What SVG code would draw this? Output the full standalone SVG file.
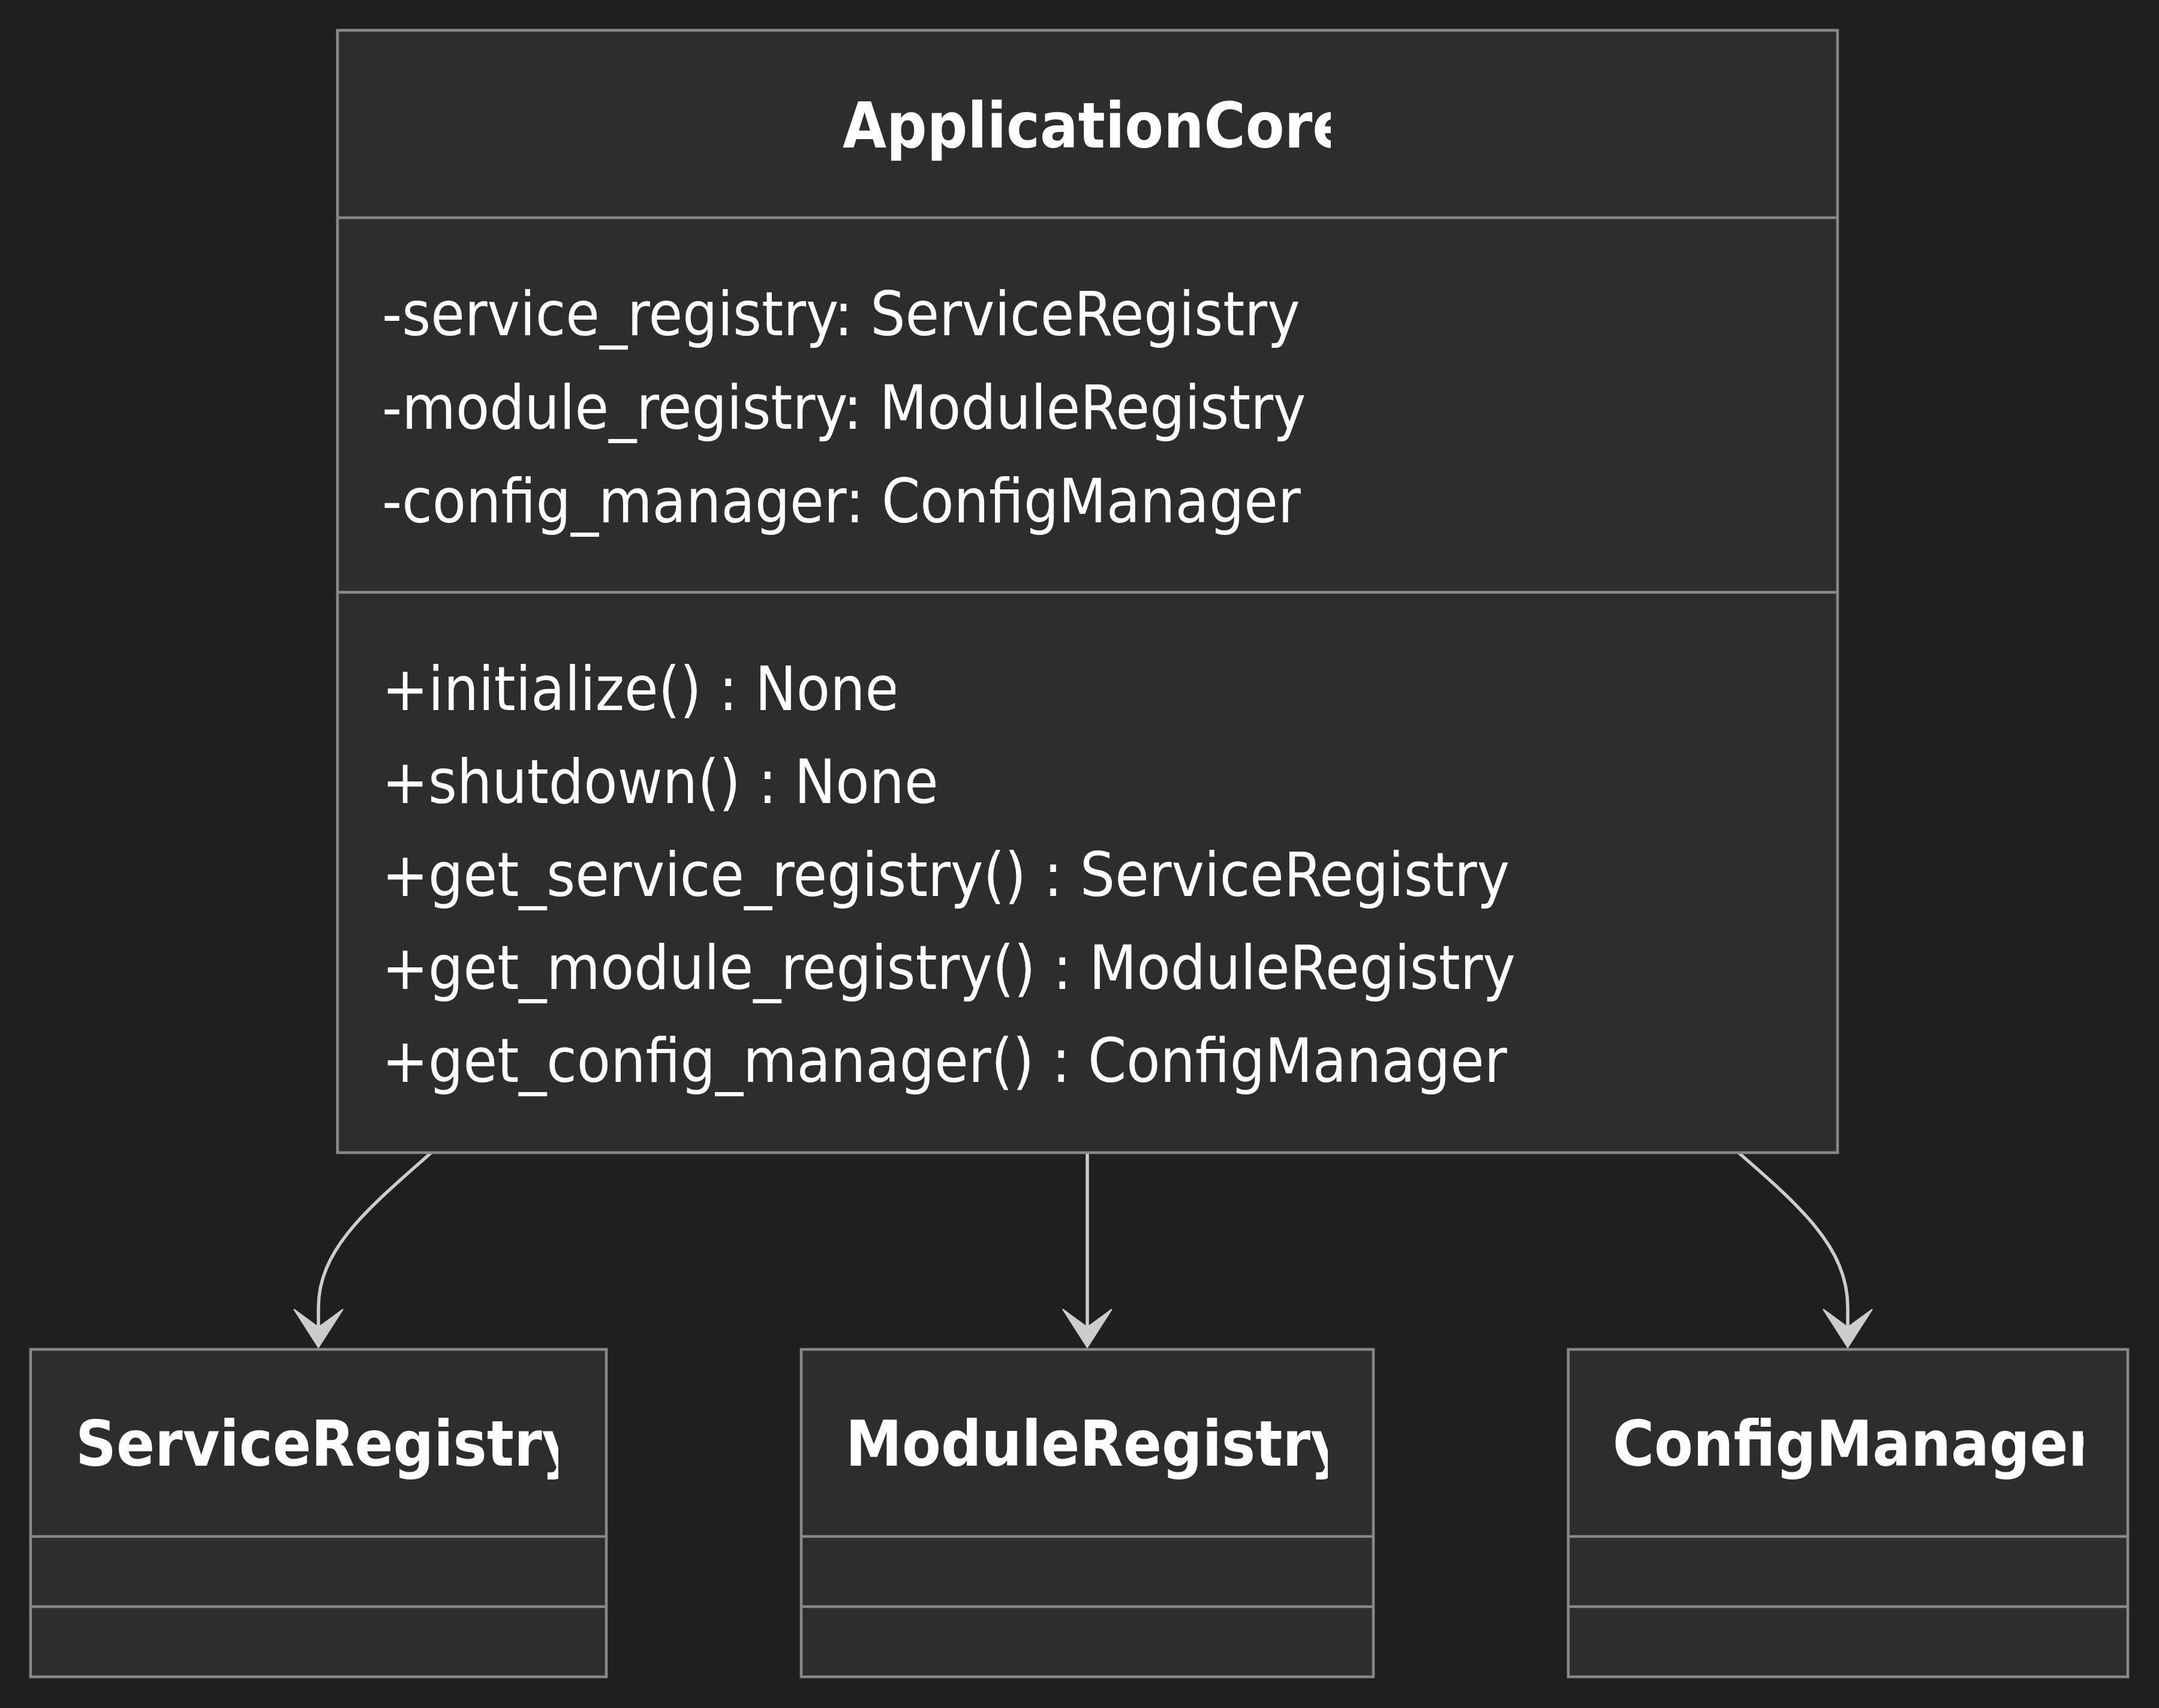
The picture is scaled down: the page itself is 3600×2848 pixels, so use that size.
<svg xmlns="http://www.w3.org/2000/svg" width="3600" height="2848" viewBox="0 0 3600 2848">
<style>
.box{fill:#2d2d2d;stroke:#888888;stroke-width:4.6}
.div{stroke:#888888;stroke-width:4.6}
.t{font-family:"DejaVu Sans Condensed","DejaVu Sans",sans-serif;font-stretch:condensed;font-size:102.3px;fill:#ffffff}
.h{font-family:"DejaVu Sans Condensed","DejaVu Sans",sans-serif;font-stretch:condensed;font-size:105px;font-weight:bold;fill:#ffffff}
.edge{fill:none;stroke:#cccccc;stroke-width:5.5}
</style>
<defs>
<marker id="dep" markerUnits="userSpaceOnUse" viewBox="-35 -45 75 90" refX="0" refY="0" markerWidth="75" markerHeight="90" orient="auto" overflow="visible">
<path d="M34,0 L-30,41 L0,0 L-30,-41 Z" fill="#cccccc" stroke="#cccccc" stroke-width="2" stroke-linejoin="miter"/>
</marker>
<clipPath id="cA"><rect x="500" y="40" width="1719" height="330"/></clipPath>
<clipPath id="cS"><rect x="40" y="2250" width="891" height="320"/></clipPath>
<clipPath id="cM"><rect x="1330" y="2250" width="884" height="320"/></clipPath>
<clipPath id="cC"><rect x="2610" y="2250" width="864" height="320"/></clipPath>
<clipPath id="a2"><rect x="600" y="600" width="1586" height="150"/></clipPath>
<clipPath id="a3"><rect x="600" y="760" width="1574" height="150"/></clipPath>
<clipPath id="m1"><rect x="600" y="1080" width="893" height="150"/></clipPath>
<clipPath id="m2"><rect x="600" y="1235" width="978" height="150"/></clipPath>
<clipPath id="m4"><rect x="600" y="1545" width="1940" height="150"/></clipPath>
<clipPath id="m5"><rect x="600" y="1700" width="1929" height="150"/></clipPath>
</defs>
<rect width="3600" height="2848" fill="#1f1f1f"/>
<g id="edges">
<path class="edge" d="M719,1922 C620,2010 531,2080 531,2180 L531,2213" marker-end="url(#dep)"/>
<path class="edge" d="M1813,1922 L1813,2213" marker-end="url(#dep)"/>
<path class="edge" d="M2899,1922 C3000,2010 3081,2080 3081,2180 L3081,2213" marker-end="url(#dep)"/>
</g>
<g id="ApplicationCore">
<rect class="box" x="562.7" y="50.5" width="2501.3" height="1871.5"/>
<line class="div" x1="562.7" y1="363" x2="3064" y2="363"/>
<line class="div" x1="562.7" y1="987.6" x2="3064" y2="987.6"/>
<text class="h" x="1405" y="246" clip-path="url(#cA)">ApplicationCore</text>
<text class="t" x="637" y="559">-service_registry: ServiceRegistry</text>
<text class="t" x="637" y="715" clip-path="url(#a2)">-module_registry: ModuleRegistry</text>
<text class="t" x="637" y="871" clip-path="url(#a3)">-config_manager: ConfigManager</text>
<text class="t" x="637" y="1184" clip-path="url(#m1)">+initialize() : None</text>
<text class="t" x="637" y="1339" clip-path="url(#m2)">+shutdown() : None</text>
<text class="t" x="637" y="1494">+get_service_registry() : ServiceRegistry</text>
<text class="t" x="637" y="1649" clip-path="url(#m4)">+get_module_registry() : ModuleRegistry</text>
<text class="t" x="637" y="1804" clip-path="url(#m5)">+get_config_manager() : ConfigManager</text>
</g>
<g id="ServiceRegistry">
<rect class="box" x="51" y="2250" width="960" height="546"/>
<line class="div" x1="51" y1="2562" x2="1011" y2="2562"/>
<line class="div" x1="51" y1="2679" x2="1011" y2="2679"/>
<text class="h" x="126" y="2444" clip-path="url(#cS)">ServiceRegistry</text>
</g>
<g id="ModuleRegistry">
<rect class="box" x="1336" y="2250" width="954" height="546"/>
<line class="div" x1="1336" y1="2562" x2="2290" y2="2562"/>
<line class="div" x1="1336" y1="2679" x2="2290" y2="2679"/>
<text class="h" x="1410" y="2444" clip-path="url(#cM)">ModuleRegistry</text>
</g>
<g id="ConfigManager">
<rect class="box" x="2615" y="2250" width="933" height="546"/>
<line class="div" x1="2615" y1="2562" x2="3548" y2="2562"/>
<line class="div" x1="2615" y1="2679" x2="3548" y2="2679"/>
<text class="h" x="2689" y="2444" clip-path="url(#cC)">ConfigManager</text>
</g>
</svg>
